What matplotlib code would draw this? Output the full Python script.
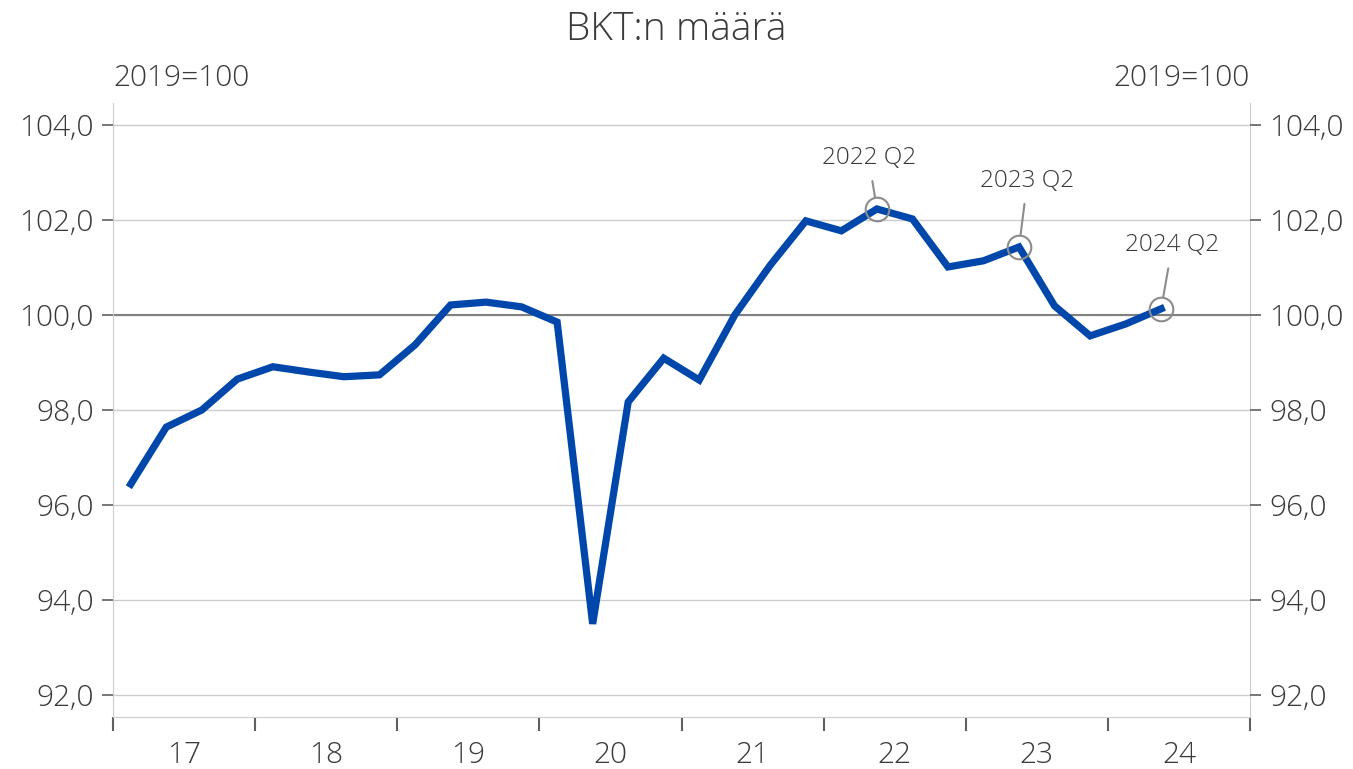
import numpy as np
import matplotlib.pyplot as plt

plt.rcParams['font.family'] = ['Open Sans', 'DejaVu Sans']
plt.rcParams['font.weight'] = 'light'

quarters = ['2017Q1', '2017Q2', '2017Q3', '2017Q4', '2018Q1', '2018Q2', '2018Q3', '2018Q4',
            '2019Q1', '2019Q2', '2019Q3', '2019Q4', '2020Q1', '2020Q2', '2020Q3', '2020Q4',
            '2021Q1', '2021Q2', '2021Q3', '2021Q4', '2022Q1', '2022Q2', '2022Q3', '2022Q4',
            '2023Q1', '2023Q2', '2023Q3', '2023Q4', '2024Q1', '2024Q2']
gdp = [96.44, 97.64, 98.00, 98.65, 98.91, 98.80, 98.70, 98.74,
       99.37, 100.21, 100.27, 100.17, 99.85, 93.50, 98.17, 99.09,
       98.63, 100.00, 101.05, 101.98, 101.77, 102.23, 102.02, 101.01,
       101.14, 101.43, 100.19, 99.56, 99.81, 100.13]
year_labels = ['17', '18', '19', '20', '21', '22', '23', '24']
highlight = ['2022Q2', '2023Q2', '2024Q2']
highlight_text = ['2022 Q2', '2023 Q2', '2024 Q2']

text_col = '#3a3a3a'
grid_col = '#cccccc'
tick_fs = 21.5

fig = plt.figure(figsize=(13.53, 7.69), dpi=100)
ax = fig.add_axes([113 / 1353, 1 - 717 / 769, (1250 - 113) / 1353, (717 - 103) / 769])

x = np.arange(len(gdp)) + 0.5
ax.plot(x, gdp, color='#0047AB', lw=5.2, zorder=3, solid_joinstyle='miter')
ax.axhline(100, color='#808080', lw=1.5, zorder=2)

ax.set_xlim(0, 32)
ax.set_ylim(91.54, 104.46)
yt = np.arange(92, 105, 2)
ylabels = ['{:.1f}'.format(v).replace('.', ',') for v in yt]
ax.set_yticks(yt)
ax.set_yticklabels(ylabels)
ax.grid(axis='y', color=grid_col, lw=1)
ax.set_axisbelow(True)

ax.set_xticks(np.arange(0, 33, 4))
ax.set_xticklabels([])
ax.set_xticks(np.arange(2, 32, 4), minor=True)
ax.set_xticklabels(year_labels, minor=True)
ax.tick_params(axis='x', which='major', length=10, width=1.5, color='#606060', direction='out')
ax.tick_params(axis='x', which='minor', length=0, pad=17, labelsize=tick_fs, labelcolor=text_col)
ax.tick_params(axis='y', length=8, width=1.2, color='#606060', labelsize=tick_fs, labelcolor=text_col, pad=6)

for s in ['left', 'right', 'bottom']:
    ax.spines[s].set_color(grid_col)
ax.spines['top'].set_visible(False)

ax2 = ax.twinx()
ax2.set_ylim(ax.get_ylim())
ax2.set_yticks(yt)
ax2.set_yticklabels(ylabels)
ax2.tick_params(axis='y', length=8, width=1.2, color='#606060', labelsize=tick_fs, labelcolor=text_col, pad=6)
for s in ax2.spines.values():
    s.set_visible(False)

# annotations with circles (offsets in points: text bottom centre relative to the point)
offsets = [(-6, 28), (6, 39), (8, 37)]
for q, t, off in zip(highlight, highlight_text, offsets):
    i = quarters.index(q)
    ax.plot(x[i], gdp[i], 'o', ms=17, mfc='none', mec='#8c8c8c', mew=1.5, zorder=4)
    ax.annotate(t, xy=(x[i], gdp[i]), xytext=off, textcoords='offset points',
                ha='center', va='bottom', fontsize=17.5, color=text_col,
                arrowprops=dict(arrowstyle='-', color='#8c8c8c', lw=1.5, shrinkA=6, shrinkB=8.5))

fig.text(0.5, 1 - 30 / 769, 'BKT:n määrä', ha='center', va='center', fontsize=28, color=text_col)
fig.text(113 / 1353, 1 - 78 / 769, '2019=100', ha='left', va='center', fontsize=21.5, color=text_col)
fig.text(1250 / 1353, 1 - 78 / 769, '2019=100', ha='right', va='center', fontsize=21.5, color=text_col)

fig.savefig('out.png', dpi=100)
